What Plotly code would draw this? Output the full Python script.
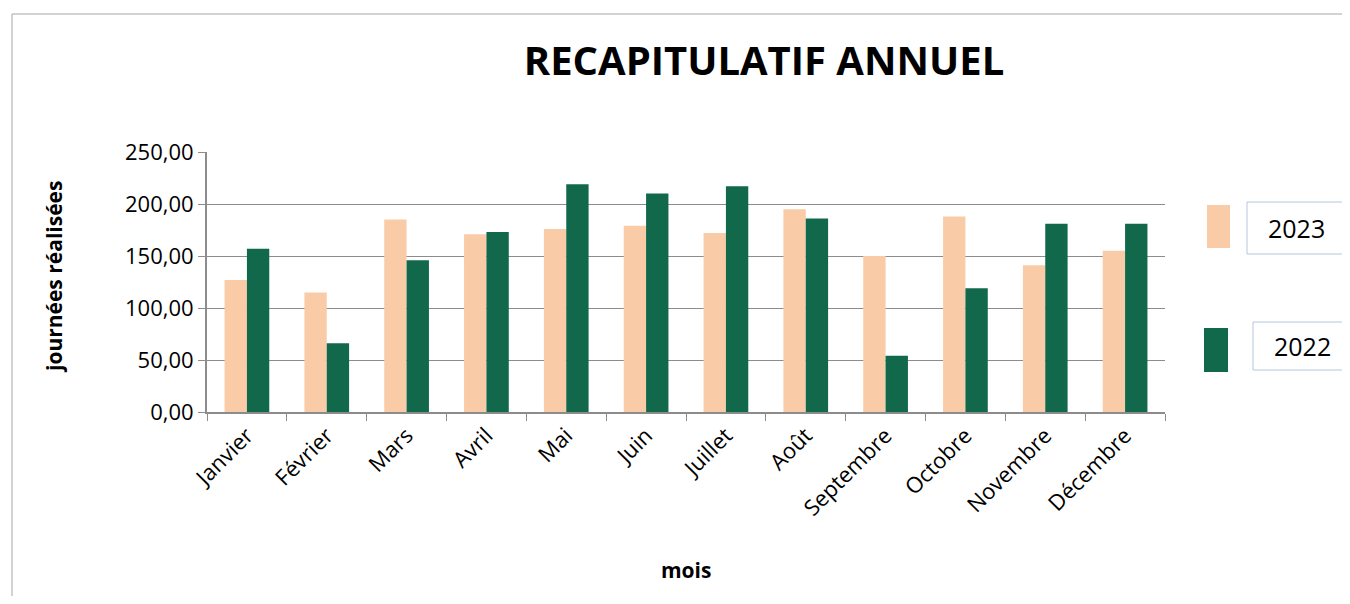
import plotly.graph_objects as go

months = ["Janvier", "Février", "Mars", "Avril", "Mai", "Juin", "Juillet",
          "Août", "Septembre", "Octobre", "Novembre", "Décembre"]
values_2023 = [127, 115, 185, 171, 176, 179, 172, 195, 150, 188, 141, 155]
values_2022 = [157, 66, 146, 173, 219, 210, 217, 186, 54, 119, 181, 181]
series_names = ["2023", "2022"]
colors = ["#FACBA7", "#12684A"]

FONT = "Open Sans, Liberation Sans, sans-serif"
OFF = 8  # page body margin
W, H = 1350 - 2 * OFF, 604 - 2 * OFF
L, R, T, B = 207 - OFF, 1165 - OFF, 152 - OFF, 412 - OFF


def px(x):
    # reference-picture x -> paper coordinate
    return (x - OFF - L) / (R - L)


def py(y):
    return (B - (y - OFF)) / (B - T)


fig = go.Figure()
for name, vals, col in zip(series_names, [values_2023, values_2022], colors):
    fig.add_trace(go.Bar(x=months, y=vals, name=name, marker_color=col,
                         marker_line_width=0))

fig.update_layout(
    width=W, height=H,
    margin=dict(l=L, r=W - R, t=T, b=H - B),
    paper_bgcolor="white", plot_bgcolor="white",
    barmode="group", bargap=0.44, bargroupgap=0,
    showlegend=False,
    separators=", ",
    font=dict(family=FONT, color="black", size=22),
    title=dict(text="<b>RECAPITULATIF ANNUEL</b>", x=(764 - OFF) / W,
               xanchor="center", xref="container",
               y=1 - (61 - OFF) / H, yanchor="middle",
               font=dict(size=40, family=FONT)),
)
fig.update_xaxes(showline=True, linecolor="#8c8c8c", linewidth=2,
                 ticks="outside", tickson="boundaries", ticklen=7,
                 tickcolor="#8c8c8c", tickangle=-45,
                 tickfont=dict(size=22))
fig.update_yaxes(range=[0, 250], dtick=50, tickformat=".2f",
                 showline=True, linecolor="#8c8c8c", linewidth=2,
                 ticks="outside", ticklen=7, tickcolor="#8c8c8c",
                 showgrid=True, gridcolor="#8c8c8c", gridwidth=1,
                 zeroline=False, tickfont=dict(size=22))

# frame around the chart (top and left edges only are visible)
fig.add_shape(type="line", xref="paper", yref="paper",
              x0=px(12), x1=px(1360), y0=py(14), y1=py(14),
              line=dict(color="#a6a6a6", width=1), layer="below")
fig.add_shape(type="line", xref="paper", yref="paper",
              x0=px(12), x1=px(12), y0=py(14), y1=py(610),
              line=dict(color="#a6a6a6", width=1), layer="below")

# axis titles
fig.add_annotation(text="<b>journées réalisées</b>", xref="paper", yref="paper",
                   x=px(54), y=py(277), xanchor="center", yanchor="middle",
                   textangle=-90, showarrow=False, font=dict(size=21))
fig.add_annotation(text="<b>mois</b>", xref="paper", yref="paper",
                   x=px(686), y=py(570), xanchor="center", yanchor="middle",
                   showarrow=False, font=dict(size=21))

# custom legend
legend_pos = [(1207, 1230, 205, 248, 1247, 1346, 202, 254),
              (1204, 1228, 328, 372, 1253, 1360, 322, 370)]
for name, col, (sx0, sx1, sy0, sy1, bx0, bx1, by0, by1) in zip(series_names, colors, legend_pos):
    fig.add_shape(type="rect", xref="paper", yref="paper",
                  x0=px(sx0), x1=px(sx1), y0=py(sy1), y1=py(sy0),
                  fillcolor=col, line=dict(width=0))
    fig.add_shape(type="rect", xref="paper", yref="paper",
                  x0=px(bx0), x1=px(bx1), y0=py(by1), y1=py(by0),
                  line=dict(color="#b4c7dc", width=1))
    fig.add_annotation(text=name, xref="paper", yref="paper",
                       x=px(1296 if name == "2023" else 1302), y=py((by0 + by1) / 2),
                       xanchor="center", yanchor="middle",
                       showarrow=False, font=dict(size=25))

fig.write_html("out.html")
